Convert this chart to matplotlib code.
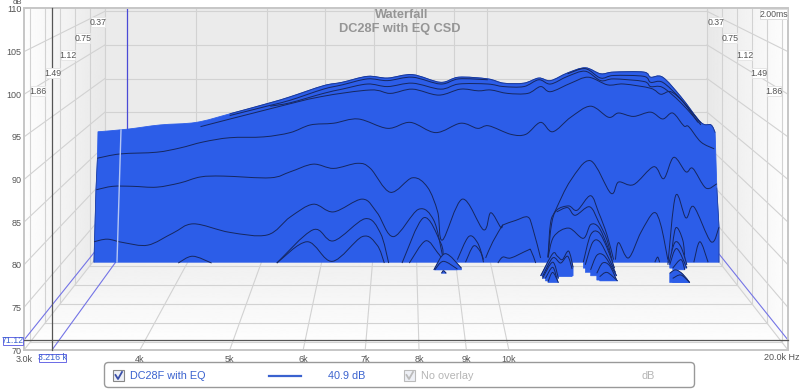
import numpy as np
import matplotlib
matplotlib.use("Agg")
import matplotlib.pyplot as plt
from matplotlib.patches import PathPatch, Polygon, FancyBboxPatch, Rectangle
from matplotlib.path import Path

plt.rcParams["font.family"] = ["Liberation Sans", "DejaVu Sans"]

TITLE = "Waterfall"
SUBTITLE = "DC28F with EQ CSD"
FREQ_TICKS = [3, 4, 5, 6, 7, 8, 9, 10]
FREQ_LABELS = ["3.0k", "4k", "5k", "6k", "7k", "8k", "9k", "10k"]
DB_TICKS = [70, 75, 80, 85, 90, 95, 100, 105, 110]
TIME_LABELS = ["0.37", "0.75", "1.12", "1.49", "1.86"]

# Slices: apparent kHz and dB
top_khz = [3.605, 3.875, 4.206, 4.60, 5.00, 5.53, 5.81, 6.31, 6.61, 7.04, 7.40, 7.87, 8.44, 8.83, 9.49, 9.87,
           10.38, 10.77, 11.09, 11.57, 12.09, 12.56, 12.97, 13.98, 14.22, 14.65, 15.33, 16.11, 16.52, 16.69]
top_db = [95.6, 95.9, 96.4, 96.7, 97.7, 99.0, 99.7, 101.0, 101.4, 102.1, 101.9, 102.3, 101.4, 102.0, 101.8, 101.3,
          101.3, 101.9, 101.6, 102.5, 103.1, 102.4, 102.6, 102.6, 102.0, 102.0, 99.7, 96.7, 96.4, 95.5]
left_edge_khz = [3.569, 3.587, 3.60]
left_edge_db = [80.3, 88.8, 92.5]
right_edge_khz = [16.76, 16.85, 16.85]
right_edge_db = [89.0, 84.5, 80.3]

u1a_khz = [5.00, 5.53, 5.81, 6.31, 6.61, 7.04, 7.40, 7.87, 8.44, 8.83, 9.49]
u1a_db = [97.5, 98.7, 99.3, 100.6, 101.1, 101.8, 101.6, 102.0, 101.2, 101.8, 101.7]
u1b_khz = [11.57, 12.09, 12.56, 12.97, 13.98, 14.22, 14.65, 15.33, 16.11]
u1b_db = [102.4, 103.0, 101.9, 102.2, 102.1, 101.4, 101.4, 99.4, 96.6]
u2_khz = [5.53, 5.81, 6.31, 6.61, 7.04, 7.40, 7.87, 8.44, 8.83, 9.49, 9.87, 10.38, 10.77, 11.09, 11.57, 12.09,
          12.56, 12.97, 13.98, 14.22, 14.65, 15.33, 16.11]
u2_db = [98.6, 99.0, 100.1, 100.6, 101.2, 100.9, 101.3, 100.6, 101.2, 101.2, 100.9, 100.9, 101.7, 101.2, 102.1, 102.7,
         101.6, 101.8, 101.5, 100.9, 100.8, 99.0, 96.4]
u3_khz = [4.65, 5.53, 6.26, 7.09, 7.45, 7.87, 8.40, 8.87, 9.27, 9.56, 9.97, 10.48, 10.82, 11.09, 11.66, 12.18,
          12.78, 13.30, 14.22, 14.58, 14.95, 15.44, 15.99]
u3_db = [96.2, 98.3, 99.7, 100.5, 100.1, 100.6, 99.9, 100.6, 100.4, 100.5, 100.1, 100.1, 100.9, 100.3, 101.3, 102.0,
         101.1, 101.2, 100.7, 100.0, 100.3, 99.0, 96.7]
s1_khz = [3.60, 3.81, 4.17, 4.42, 4.68, 5.00, 5.44, 5.81, 6.11, 6.47, 6.88, 7.40, 7.83, 8.34, 8.87, 9.25, 9.51, 10.05,
          10.43, 10.82, 11.15, 11.66, 12.25, 12.81, 13.13, 13.63, 14.22, 14.65, 15.02, 15.44, 15.63, 16.11, 16.65]
s1_db = [92.5, 93.0, 93.2, 93.7, 94.4, 94.9, 95.0, 95.5, 96.4, 96.6, 97.1, 96.0, 96.7, 95.5, 96.6, 96.0, 96.3, 95.3,
         95.3, 96.7, 95.6, 97.3, 98.6, 97.3, 97.8, 97.4, 97.9, 97.1, 97.8, 96.3, 96.2, 94.4, 93.6]
s2_khz = [3.59, 3.74, 3.93, 4.17, 4.42, 4.65, 4.92, 5.53, 5.81, 6.15, 6.47, 6.87, 7.09, 7.45, 7.87, 8.17, 8.38, 8.48,
          8.91, 9.39, 9.56, 9.80, 9.87, 10.17, 10.48, 10.61, 10.82]
s2_db = [88.8, 89.2, 89.2, 89.1, 89.6, 90.3, 90.4, 90.2, 90.9, 91.8, 91.3, 91.9, 91.3, 88.5, 90.2, 89.1, 86.2, 82.9,
         87.7, 84.1, 86.1, 84.4, 84.7, 85.2, 85.6, 84.3, 80.8]
s2b_khz = [11.02, 11.09, 11.23, 11.66, 12.25, 12.88, 13.13, 13.63, 14.33, 14.69, 15.06, 15.52, 15.79, 16.31, 16.76]
s2b_db = [80.9, 84.9, 86.4, 89.9, 92.2, 88.4, 89.7, 89.4, 91.5, 90.1, 92.6, 90.9, 91.3, 89.0, 89.5]
s3_khz = [3.57, 3.69, 3.84, 4.08, 4.34, 4.57, 5.00, 5.49, 5.81, 6.15, 6.47, 6.95, 7.21, 7.51, 7.99, 8.30, 8.48]
s3_db = [82.7, 83.0, 82.6, 82.3, 83.7, 84.8, 83.8, 83.5, 85.6, 87.1, 86.2, 87.7, 86.1, 83.3, 86.5, 85.2, 81.1]

a_khz = [5.62, 6.15, 6.47, 7.00, 7.27, 7.42]
a_db = [80.2, 84.1, 82.8, 85.4, 83.7, 80.2]
b_khz = [5.62, 6.06, 6.45, 6.95, 7.21, 7.34]
b_db = [80.2, 82.7, 80.4, 83.3, 82.3, 80.2]
c_khz = [7.67, 8.09, 8.44, 8.50]
c_db = [80.2, 85.5, 82.6, 80.9]
d_khz = [7.81, 8.13, 8.38, 8.48]
d_db = [80.2, 82.8, 81.4, 80.6]
e_khz = [8.80, 9.05, 9.25, 9.39]
e_db = [80.6, 83.3, 82.6, 80.6]
f_khz = [8.98, 9.16, 9.32, 9.39]
f_db = [80.3, 82.2, 81.5, 80.3]
g_khz = [9.44, 9.61, 9.85]
g_db = [80.8, 82.7, 84.7]
h_khz = [9.73, 9.85, 10.05, 10.48, 10.56, 10.69]
h_db = [80.2, 80.9, 80.8, 81.7, 81.7, 80.2]
r1_khz = [11.02, 11.12, 11.26, 11.60, 11.85, 12.25, 12.50, 12.76, 12.97]
r1_db = [80.9, 84.8, 86.4, 86.9, 86.4, 88.1, 86.1, 83.5, 80.6]
r2_khz = [11.26, 11.57, 11.79, 12.22, 12.50, 12.76, 12.93]
r2_db = [86.2, 86.7, 85.8, 86.8, 85.0, 82.9, 80.3]
r3_khz = [11.02, 11.18, 11.60, 12.03, 12.25, 12.50, 12.76, 12.93]
r3_db = [80.8, 83.3, 84.3, 83.1, 84.7, 84.4, 82.3, 80.3]
c1_khz = [13.03, 13.13, 13.46, 13.88, 14.33, 14.58, 14.84]
c1_db = [80.6, 82.6, 80.8, 83.8, 86.1, 84.7, 80.6]
c2_khz = [14.84, 15.13, 15.52, 15.83, 16.52, 16.85]
c2_db = [80.0, 88.1, 85.5, 86.8, 82.7, 84.4]
c3_khz = [14.95, 15.13, 15.40, 15.48]
c3_db = [80.6, 84.3, 82.9, 80.6]
small_e_khz = [15.83, 16.07, 16.40]
small_e_db = [80.3, 82.7, 80.3]
small_g_khz = [14.37, 14.47, 14.54]
small_g_db = [80.3, 80.9, 80.3]
low_khz = [4.40, 4.56, 4.78]
low_db = [80.2, 81.0, 80.2]

# Lumps in front of the main body, back to front
p1_khz = [12.03, 12.25, 12.50, 12.76, 13.00]
p1_db = [80.3, 83.5, 83.8, 82.0, 79.6]
p2_khz = [12.09, 12.31, 12.53, 12.81, 13.03]
p2_db = [80.0, 82.6, 82.7, 80.8, 79.1]
p3_khz = [12.25, 12.44, 12.66, 12.93, 13.07]
p3_db = [79.4, 81.1, 81.1, 79.6, 78.7]
p4_khz = [12.44, 12.62, 12.84, 13.07]
p4_db = [79.0, 80.2, 79.9, 78.2]
p5_khz = [12.53, 12.76, 13.10]
p5_db = [78.6, 79.1, 78.1]
q1_khz = [10.82, 11.15, 11.28, 11.42, 11.60, 11.73]
q1_db = [78.7, 81.3, 81.0, 80.6, 81.6, 79.7]
q2_khz = [10.87, 11.15, 11.37, 11.57, 11.70]
q2_db = [78.6, 80.8, 80.2, 81.0, 79.5]
q3_khz = [10.87, 11.15, 11.31]
q3_db = [78.4, 80.3, 78.4]
q4_khz = [10.95, 11.15, 11.28]
q4_db = [78.4, 79.7, 78.1]
q5_khz = [11.02, 11.15, 11.31]
q5_db = [78.0, 79.1, 77.9]
t1_khz = [14.88, 15.10, 15.33, 15.56]
t1_db = [80.2, 82.6, 82.1, 80.0]
t2_khz = [14.91, 15.17, 15.56]
t2_db = [80.0, 81.9, 79.6]
t3_khz = [15.02, 15.33, 15.48]
t3_db = [79.6, 80.6, 79.4]
t4_khz = [14.91, 15.13, 15.40, 15.67]
t4_db = [79.0, 79.4, 78.9, 77.9]
t5_khz = [15.02, 15.33, 15.67]
t5_db = [78.4, 78.8, 77.9]
m1_khz = [8.30, 8.54, 8.89]
m1_db = [79.4, 81.3, 79.6]
m2_khz = [8.32, 8.50, 8.80]
m2_db = [79.4, 80.4, 79.5]
m3_khz = [8.46, 8.50, 8.56]
m3_db = [79.0, 79.3, 79.0]

SURFACE_LINES = [(u1a_khz, u1a_db), (u1b_khz, u1b_db), (u2_khz, u2_db), (u3_khz, u3_db), (s1_khz, s1_db),
                 (s2_khz, s2_db), (s2b_khz, s2b_db), (s3_khz, s3_db), (r1_khz, r1_db), (r2_khz, r2_db),
                 (r3_khz, r3_db), (c1_khz, c1_db), (c2_khz, c2_db), (g_khz, g_db)]
SURFACE_ARCS = [(a_khz, a_db), (b_khz, b_db), (c_khz, c_db), (d_khz, d_db), (e_khz, e_db), (f_khz, f_db),
                (h_khz, h_db), (c3_khz, c3_db), (small_e_khz, small_e_db), (small_g_khz, small_g_db),
                (low_khz, low_db)]
FRONT_LUMPS = [(p1_khz, p1_db), (p2_khz, p2_db), (p3_khz, p3_db), (p4_khz, p4_db), (p5_khz, p5_db),
               (q1_khz, q1_db), (q2_khz, q2_db), (q3_khz, q3_db), (q4_khz, q4_db), (q5_khz, q5_db),
               (t1_khz, t1_db), (t2_khz, t2_db), (t3_khz, t3_db), (t4_khz, t4_db), (t5_khz, t5_db),
               (m1_khz, m1_db), (m2_khz, m2_db), (m3_khz, m3_db)]

BLUE = "#2c5de8"
DARK = "#16275f"
GRID = "#d2d2d2"
LABEL = "#555555"
LEGEND_BLUE = "#3a62cf"


def curve(khz, db):
    """Bezier through the read points, tangents taken from the neighbouring points."""
    x = np.log10(khz)
    y = np.asarray(db, dtype=float)
    verts = [(khz[0], db[0])]
    codes = [Path.MOVETO]
    n = len(x)
    for i in range(n - 1):
        prev_i = max(i - 1, 0)
        next_i = min(i + 2, n - 1)
        x1 = x[i] + (x[i + 1] - x[prev_i]) / 6
        y1 = y[i] + (y[i + 1] - y[prev_i]) / 6
        x2 = x[i + 1] - (x[next_i] - x[i]) / 6
        y2 = y[i + 1] - (y[next_i] - y[i]) / 6
        verts += [(10 ** x1, y1), (10 ** x2, y2), (khz[i + 1], db[i + 1])]
        codes += [Path.CURVE4] * 3
    return verts, codes


def add_line(ax, khz, db, lw=0.7, color=DARK, zorder=3):
    verts, codes = curve(khz, db)
    ax.add_patch(PathPatch(Path(verts, codes), fill=False, edgecolor=color, lw=lw, zorder=zorder))


def add_lump(ax, khz, db, zorder=4):
    # flat base at the lower foot, as the lumps sit on the floor
    base = min(db)
    verts, codes = curve(khz, db)
    verts = verts + [(khz[-1], base), (khz[0], base), verts[0]]
    codes = codes + [Path.LINETO, Path.LINETO, Path.CLOSEPOLY]
    ax.add_patch(PathPatch(Path(verts, codes), facecolor=BLUE, edgecolor=BLUE, lw=0.4, zorder=zorder))
    add_line(ax, khz, db, zorder=zorder)


def draw_room(bg):
    """Back wall, side walls and floor, in pixel coordinates."""
    clip = Rectangle((24, 8), 764, 342, transform=bg.transData)
    ramp = np.linspace(0.995, 0.91, 256).reshape(1, -1)
    walls = [(ramp, (24, 105, 350, 8), [(24, 8), (105, 8), (105, 246.5), (24, 350)]),
             (ramp[:, ::-1], (707, 788, 350, 8), [(707, 8), (788, 8), (788, 350), (707, 246.5)])]
    for data, extent, corners in walls:
        im = bg.imshow(data, extent=extent, cmap="gray", vmin=0, vmax=1, aspect="auto", zorder=1)
        im.set_clip_path(Polygon(corners, transform=bg.transData))
    floor = np.linspace(0.93, 1.0, 256).reshape(-1, 1)
    im = bg.imshow(floor, extent=(24, 788, 350, 246.5), origin="upper", cmap="gray", vmin=0, vmax=1,
                   aspect="auto", zorder=1)
    im.set_clip_path(Polygon([(105, 246.5), (707, 246.5), (788, 350), (24, 350)], transform=bg.transData))
    bg.add_patch(Rectangle((105, 8), 602, 238.5, facecolor="#ebebeb", edgecolor="none", zorder=1))

    # Grid on the walls
    for level in DB_TICKS:
        front_y = 350 - 8.525 * (level - 70)
        back_y = 246.5 - 6.72 * (level - 70)
        for x0, x1 in [(24, 105), (788, 707)]:
            ln, = bg.plot([x0, x1], [front_y, back_y], color=GRID, lw=0.8, zorder=2)
            ln.set_clip_path(clip)
        if back_y > 8:
            bg.plot([105, 707], [back_y, back_y], color=GRID, lw=0.8, zorder=2)
    for step in range(1, 6):
        frac = step * 0.37 / 2.0
        left = 105 - 81 * frac
        right = 707 + 81 * frac
        y = 246.5 + 103.5 * frac
        bg.plot([left, left], [8, y], color=GRID, lw=0.8, zorder=2)
        bg.plot([right, right], [8, y], color=GRID, lw=0.8, zorder=2)
        bg.plot([left, right], [y, y], color=GRID, lw=0.8, zorder=2)
    for x in (105, 707):
        bg.plot([x, x], [8, 246.5], color=GRID, lw=0.8, zorder=2)
    bg.plot([105, 707], [246.5, 246.5], color=GRID, lw=0.8, zorder=2)
    for tick in [4, 5, 6, 7, 8, 9, 10]:
        share = np.log10(tick / 3) / np.log10(20 / 3)
        back_x = 105 + 602 * share
        front_x = 24 + 764 * share
        bg.plot([back_x, back_x], [8, 246.5], color=GRID, lw=0.8, zorder=2)
        bg.plot([back_x, front_x], [246.5, 350], color=GRID, lw=0.8, zorder=2)

    # Cursor guides behind the surface
    guide = "#7474e6"
    bg.plot([24, 105], [340, 239], color=guide, lw=0.8, zorder=2)
    bg.plot([788, 707], [340, 239], color=guide, lw=0.8, zorder=2)
    bg.plot([52, 127], [350, 246.5], color=guide, lw=0.8, zorder=2)
    bg.plot([127, 127], [8, 135], color="#4a4ad6", lw=0.9, zorder=2)


def draw_surface(ax):
    verts = list(zip(left_edge_khz, left_edge_db))
    codes = [Path.MOVETO] + [Path.LINETO] * (len(verts) - 1)
    top_verts, top_codes = curve(top_khz, top_db)
    verts += top_verts
    codes += [Path.LINETO] + top_codes[1:]
    verts += list(zip(right_edge_khz, right_edge_db))
    codes += [Path.LINETO] * len(right_edge_khz)
    verts.append(verts[0])
    codes.append(Path.CLOSEPOLY)
    ax.add_patch(PathPatch(Path(verts, codes), facecolor=BLUE, edgecolor=BLUE, lw=0.6, zorder=2))

    # dark rim only where the picture has one
    add_line(ax, top_khz[4:], top_db[4:], lw=0.7, color="#1c3a96")
    ax.plot(left_edge_khz, left_edge_db, color="#1c3a96", lw=0.5, zorder=3)
    ax.plot(right_edge_khz, right_edge_db, color="#1c3a96", lw=0.5, zorder=3)
    for khz, db in SURFACE_LINES:
        add_line(ax, khz, db)
    for khz, db in SURFACE_ARCS:
        add_line(ax, khz, db)
    for khz, db in FRONT_LUMPS:
        add_lump(ax, khz, db)


def tag(over, x, y, text, width, color=LABEL, edge="#dddddd", height=10, size=6.3):
    over.add_patch(Rectangle((x, y - height / 2), width, height, facecolor="white", edgecolor=edge, lw=0.7, zorder=2))
    over.text(x + width / 2, y + 0.3, text, ha="center", va="center", fontsize=size, color=color, zorder=3)


def draw_overlay(over):
    over.text(402, 15, TITLE, ha="center", va="center", fontsize=9.2, color="#959595", fontweight="bold")
    over.text(400, 29, SUBTITLE, ha="center", va="center", fontsize=9.2, color="#959595", fontweight="bold")

    lefts = [91, 76, 61, 46, 31]
    rights = [709, 723, 738, 752, 767]
    rows = [22, 38, 55, 73, 91]
    for text, lx, rx, y in zip(TIME_LABELS, lefts, rights, rows):
        tag(over, lx, y, text, 14, edge="#e6e6e6")
        tag(over, rx, y, text, 14, edge="#e6e6e6")
    tag(over, 760, 14, "2.00ms", 27)

    # Cursor crosshair and its readouts
    over.plot([52, 52], [8, 350], color="#555555", lw=0.9, zorder=1)
    over.plot([24, 788], [340, 340], color="#555555", lw=0.9, zorder=1)
    over.plot([121, 117], [130, 262], color="#b4c6f4", lw=1.0, zorder=1)
    tag(over, 3, 340.5, "71.12", 20, color="#3a62cf", edge="#6a6ae6", height=8)
    tag(over, 39, 357.5, "3.216 k", 27, color="#3a62cf", edge="#6a6ae6", height=8)

    over.text(800, 357, "20.0k Hz", ha="right", va="center", fontsize=6.5, color=LABEL)
    over.text(17, 2.5, "dB", ha="center", va="center", fontsize=5.6, color=LABEL)

    # Legend strip
    over.add_patch(FancyBboxPatch((106, 364), 587, 22, boxstyle="round,pad=1.5,rounding_size=4", facecolor="white",
                                  edgecolor="#999999", lw=1.0))
    for x, ec, tick_color in [(113, "#888888", "#3a4fa8"), (404, "#bbbbbb", "#bbbbbb")]:
        over.add_patch(Rectangle((x, 370), 11, 11, facecolor="#eef0f6", edgecolor=ec, lw=0.8))
        over.plot([x + 2.5, x + 5, x + 9], [375, 379, 372], color=tick_color, lw=1.3)
    over.text(130, 376, "DC28F with EQ", va="center", fontsize=7.8, color=LEGEND_BLUE)
    over.plot([269, 301], [376, 376], color=LEGEND_BLUE, lw=1.6)
    over.text(328, 376, "40.9 dB", va="center", fontsize=7.8, color=LEGEND_BLUE)
    over.text(421, 376, "No overlay", va="center", fontsize=7.8, color="#b5b5b5")
    over.text(642, 376, "dB", va="center", fontsize=7.8, color="#b5b5b5")


def pixel_axes(fig, zorder):
    ax = fig.add_axes([0, 0, 1, 1], zorder=zorder)
    ax.axis("off")
    ax.patch.set_alpha(0)
    return ax


def main():
    fig = plt.figure(figsize=(8, 3.89), dpi=100, facecolor="white")

    bg = pixel_axes(fig, 0)
    draw_room(bg)
    bg.set_xlim(0, 800)
    bg.set_ylim(389, 0)

    ax = fig.add_axes([24 / 800, 1 - 350 / 389, 764 / 800, 341 / 389], zorder=1)
    ax.patch.set_alpha(0)
    ax.set_xscale("log")
    ax.set_xlim(3, 20)
    ax.set_ylim(70, 110)
    ax.set_xticks(FREQ_TICKS)
    ax.set_xticklabels(FREQ_LABELS)
    ax.minorticks_off()
    ax.set_yticks(DB_TICKS)
    ax.tick_params(length=0, labelsize=6.5, labelcolor=LABEL, pad=2)
    ax.tick_params(axis="x", pad=3.5)
    for spine in ax.spines.values():
        spine.set_color("#c6c6c6")
        spine.set_linewidth(1.4)
    ax.spines["top"].set_position(("outward", 1))
    draw_surface(ax)

    over = pixel_axes(fig, 2)
    over.set_xlim(0, 800)
    over.set_ylim(389, 0)
    draw_overlay(over)

    fig.savefig("out.png", dpi=100)
    plt.close(fig)


if __name__ == "__main__":
    main()
